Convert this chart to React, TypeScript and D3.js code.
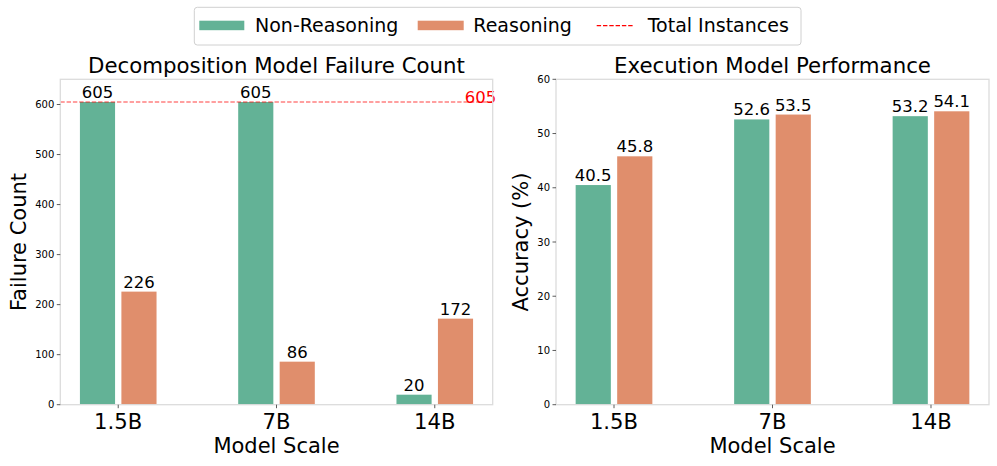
import * as d3 from 'd3';

const scales = ['1.5B', '7B', '14B'];
const failNonReasoning = [605, 605, 20];
const failReasoning = [226, 86, 172];
const totalInstances = 605;
const failTicks = [0, 100, 200, 300, 400, 500, 600];
const accNonReasoning = [40.5, 52.6, 53.2];
const accReasoning = [45.8, 53.5, 54.1];
const accTicks = [0, 10, 20, 30, 40, 50, 60];

const GREEN = '#63b296';
const ORANGE = '#e08e6c';
const FONT = '"DejaVu Sans", Verdana, sans-serif';

const W = 997;
const H = 466;
const top = 79.3;
const bottom = 404.7;
const barW = 0.222;
const offset = 0.131;

interface PanelProps {
  left: number;
  right: number;
  title: string;
  yLabel: string;
  yLabelX: number;
  yMax: number;
  ticks: number[];
  a: number[];
  b: number[];
  fmt: (v: number) => string;
  refLine?: number;
}

function Panel({ left, right, title, yLabel, yLabelX, yMax, ticks, a, b, fmt, refLine }: PanelProps) {
  const x = d3.scaleLinear().domain([-0.366, 2.366]).range([left, right]);
  const y = d3.scaleLinear().domain([0, yMax]).range([bottom, top]);
  const cx = (left + right) / 2;

  const series = [
    { values: a, color: GREEN, dx: -offset },
    { values: b, color: ORANGE, dx: offset },
  ];

  return (
    <g>
      {/* bars */}
      {series.map((s, si) =>
        s.values.map((v, i) => (
          <rect
            key={`${si}-${i}`}
            x={x(i + s.dx - barW / 2)}
            y={y(v)}
            width={x(barW) - x(0)}
            height={y(0) - y(v)}
            fill={s.color}
          />
        ))
      )}
      {/* value labels */}
      {series.map((s, si) =>
        s.values.map((v, i) => (
          <text
            key={`l${si}-${i}`}
            x={x(i + s.dx)}
            y={y(v) - 4}
            textAnchor="middle"
            fontSize={16.5}
            fill="#000"
          >
            {fmt(v)}
          </text>
        ))
      )}
      {refLine !== undefined && (
        <g>
          <line
            x1={left}
            x2={right}
            y1={y(refLine)}
            y2={y(refLine)}
            stroke="red"
            strokeOpacity={0.75}
            strokeWidth={1.2}
            strokeDasharray="4.4,1.9"
          />
          <text x={x(2.19)} y={y(refLine) + 0.5} fontSize={16.5} fill="red">
            {refLine}
          </text>
        </g>
      )}
      {/* frame */}
      <rect
        x={left}
        y={top}
        width={right - left}
        height={bottom - top}
        fill="none"
        stroke="#dcdcdc"
        strokeWidth={1.3}
      />
      {/* y ticks */}
      {ticks.map((t) => (
        <g key={t}>
          <line x1={left - 3.5} x2={left} y1={y(t)} y2={y(t)} stroke="#333" strokeWidth={0.8} />
          <text x={left - 6} y={y(t)} dy="0.35em" textAnchor="end" fontSize={10} fill="#000">
            {t}
          </text>
        </g>
      ))}
      {/* x ticks */}
      {scales.map((c, i) => (
        <g key={c}>
          <line x1={x(i)} x2={x(i)} y1={bottom} y2={bottom + 3.5} stroke="#333" strokeWidth={0.8} />
          <text x={x(i)} y={429} textAnchor="middle" fontSize={21.2} fill="#000">
            {c}
          </text>
        </g>
      ))}
      <text x={cx} y={453} textAnchor="middle" fontSize={21} fill="#000">
        Model Scale
      </text>
      <text
        transform={`translate(${yLabelX},${(top + bottom) / 2}) rotate(-90)`}
        textAnchor="middle"
        fontSize={21}
        fill="#000"
      >
        {yLabel}
      </text>
      <text x={cx} y={73} textAnchor="middle" fontSize={21.3} fill="#000">
        {title}
      </text>
    </g>
  );
}

export default function App() {
  return (
    <svg
      width={W}
      height={H}
      style={{ position: 'absolute', left: 0, top: 0, background: '#fff' }}
      fontFamily={FONT}
    >
      <rect width={W} height={H} fill="#fff" />
      <Panel
        left={60.3}
        right={492.7}
        title="Decomposition Model Failure Count"
        yLabel="Failure Count"
        yLabelX={26}
        yMax={totalInstances * 1.075}
        ticks={failTicks}
        a={failNonReasoning}
        b={failReasoning}
        fmt={(v) => String(v)}
        refLine={totalInstances}
      />
      <Panel
        left={556}
        right={989}
        title="Execution Model Performance"
        yLabel="Accuracy (%)"
        yLabelX={528}
        yMax={60}
        ticks={accTicks}
        a={accNonReasoning}
        b={accReasoning}
        fmt={(v) => v.toFixed(1)}
      />
      {/* legend */}
      <g>
        <rect x={194.3} y={7.3} width={606.7} height={37.7} rx={3} fill="#fff" stroke="#d0d0d0" strokeWidth={1} />
        <rect x={199.3} y={20.7} width={45} height={9.5} fill={GREEN} />
        <text x={255} y={32.4} fontSize={19}>Non-Reasoning</text>
        <rect x={417.7} y={20.7} width={46} height={9.5} fill={ORANGE} />
        <text x={473.3} y={32.4} fontSize={19}>Reasoning</text>
        <line
          x1={596.7}
          x2={632.7}
          y1={25.6}
          y2={25.6}
          stroke="red"
          strokeWidth={1.2}
          strokeDasharray="4.4,1.9"
        />
        <text x={647.7} y={32.4} fontSize={19}>Total Instances</text>
      </g>
    </svg>
  );
}
